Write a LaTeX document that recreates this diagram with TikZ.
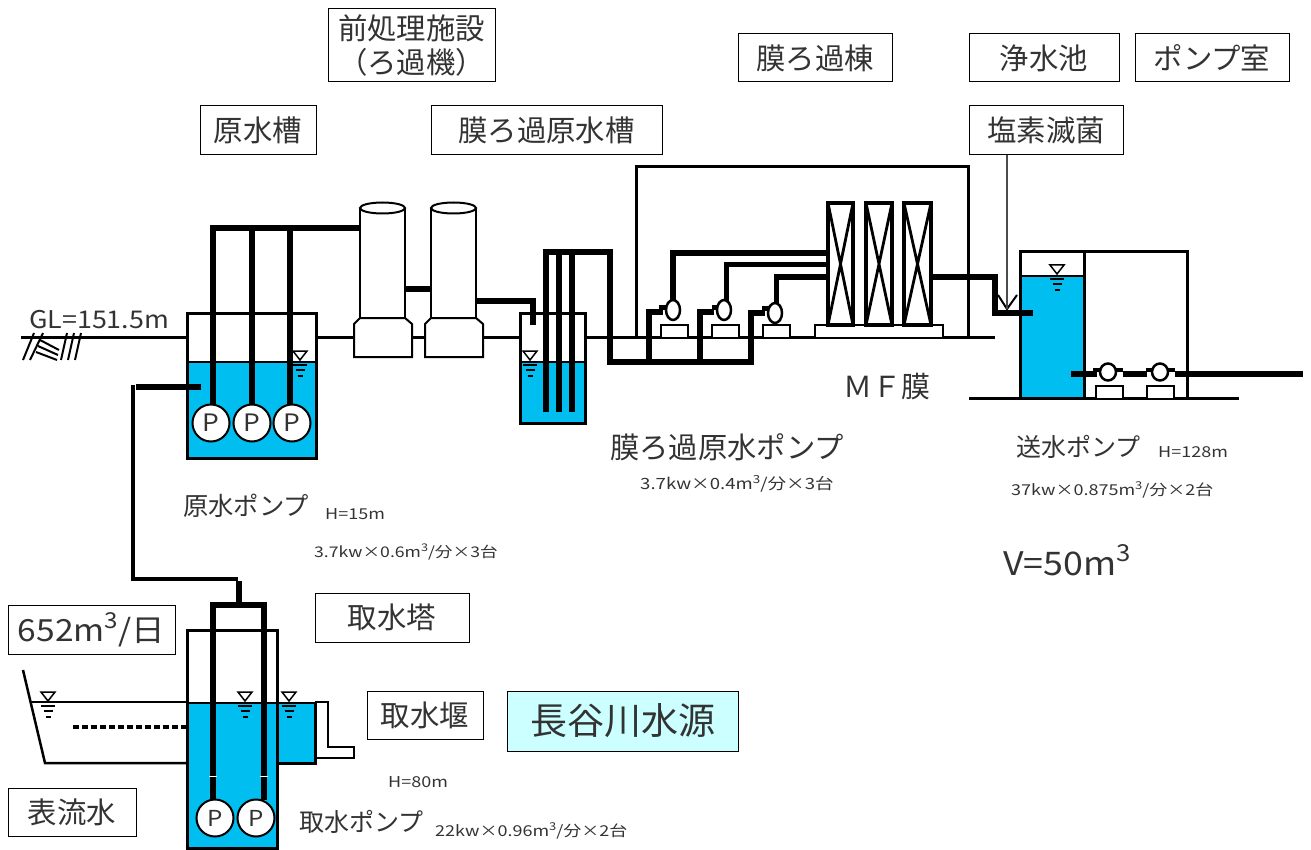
\documentclass[tikz,border=0pt]{standalone}
\usepackage{fontspec}
\setmainfont{Noto Sans CJK JP}
\newfontfamily\widef[FakeStretch=1.2]{Noto Sans CJK JP}
\newfontfamily\midf[FakeStretch=1.1]{Noto Sans CJK JP}
\definecolor{water}{HTML}{00BEEF}
\definecolor{inkt}{HTML}{333333}
\definecolor{cyanbox}{HTML}{CCFFFF}
\newcommand{\fs}[1]{\fontsize{#1}{#1}\selectfont}
\newcommand{\cu}{\raisebox{.42em}{\scalebox{.72}{3}}}
\usetikzlibrary{shapes.geometric}
\tikzset{
  txtbox/.style={draw=black,line width=1pt,fill=white,inner sep=0pt,align=center,text=inkt,font=\fs{29.4}},
  lbl/.style={inner sep=0pt,anchor=west,text=inkt},
  small/.style={lbl,font=\widef\fs{15}},
  pipe/.style={line width=6pt,line cap=butt,line join=miter},
  wall/.style={line width=3pt,line join=miter},
  thinw/.style={line width=3pt,line join=miter},
  pumpP/.style={circle,draw,line width=2pt,fill=white,minimum size=37pt,inner sep=0pt,font=\midf\fs{24},text=inkt},
  pumpO/.style={ellipse,draw,line width=2.5pt,fill=white,inner sep=0pt},
  basebox/.style={line width=2.7pt,fill=white}
}
\newcommand{\lev}[2]{% x, water level y
  \draw[line width=1.5pt,fill=white] (#1-7,#2-10)--(#1+7,#2-10)--(#1,#2-1)--cycle;
  \draw[line width=1.8pt] (#1-7,#2+4)--(#1+7,#2+4) (#1-4.5,#2+9)--(#1+4.5,#2+9) (#1-2.5,#2+15)--(#1+2.5,#2+15);}
\begin{document}
\begin{tikzpicture}[x=1pt,y=-1pt]
\useasboundingbox (0,0) rectangle (1311,850);
% water
\fill[water] (187,362) rectangle (316,458);
\fill[water] (520,362) rectangle (585,423);
\fill[water] (1020,276) rectangle (1084,398);
\fill[water] (187,703) rectangle (277,848);
\fill[water] (277,703) rectangle (315,763);
% ground lines
\draw[thinw] (21,337)--(187,337) (316,337)--(520,337) (585,337)--(995,337);
\draw[thinw] (969,398)--(1239,398);
% hatch
\draw[line width=2pt] (34,333)--(23,360) (43,333)--(30,360) (67,333)--(61,360) (74,333)--(68,360) (81,333)--(75,360);
\draw[line width=2pt] (40,340)--(59,350) (38,346)--(58,355) (36,352)--(57,360);
% raw tank
\draw[wall] (187,313) rectangle (316,458);
\draw[line width=2pt] (187,362)--(316,362);
% filters
\foreach \n/\x in {0/0,1/71}{
  \begin{scope}[xshift=\x pt]
  \draw[line width=2pt,fill=white] (360,208)--(360,318)--(405,318)--(405,208);
  \draw[line width=2pt,fill=white] (382.5,208) ellipse [x radius=22.5,y radius=5.5];
  \draw[line width=2pt,fill=white] (360,318)--(405,318)--(412,324)--(412,357)--(354,357)--(354,324)--cycle;
  \end{scope}}
\draw[pipe] (405,289)--(431,289);
\draw[pipe] (476,301)--(533,301)--(533,325);
% raw pipes
\draw[pipe] (213,423)--(213,228)--(360,228);
\draw[pipe] (252,228)--(252,423);
\draw[pipe] (290,228)--(290,423);
\lev{300}{361}
\node[pumpP] (pa) at (211,423) {P};
\node[pumpP] (pb) at (252,423) {P};
\node[pumpP] (pc) at (292,423) {P};
% inlet
\draw[line width=4pt] (133,385)--(133,579)--(238,579);
\draw[pipe] (136,387)--(201,387);
\draw[pipe] (239,581)--(239,605);
% MF raw tank
\draw[wall] (520,313) rectangle (585,423);
\draw[line width=2pt] (520,362)--(585,362);
\lev{530}{361}
\draw[pipe] (546,412)--(546,252)--(610,252)--(610,362)--(751,362)--(751,313)--(765,313);
\draw[pipe] (559,252)--(559,412);
\draw[pipe] (572,252)--(572,412);
\draw[pipe] (649,362)--(649,312)--(663,312);
\draw[pipe] (700,362)--(700,312)--(714,312);
% building
\draw[line width=3pt,line join=miter] (636,337)--(636,167)--(970,167);
\draw[line width=3pt] (968,167)--(968,337);
% bases
\foreach \x in {661,712,763}{\draw[basebox] (\x,337)--(\x,325)--(\x+27,325)--(\x+27,337);}
\draw[basebox] (815,337)--(815,325)--(943,325)--(943,337);
% outlets
\draw[pipe] (673,310)--(673,253)--(830,253);
\draw[line width=5pt] (726,310)--(726,265)--(830,265);
\draw[line width=5pt] (776,313)--(776,277)--(830,277);
\draw[line width=5pt] (659,307)--(668,307) (712,307)--(719,307) (762,308)--(770,308);
% pumps
\node[pumpO,minimum width=14pt,minimum height=20pt] (m1) at (673,310) {};
\node[pumpO,minimum width=14pt,minimum height=20pt] (m2) at (724,310) {};
\node[pumpO,minimum width=14pt,minimum height=20pt] (m3) at (775,313) {};
% modules
\foreach \a/\b in {828/853,866/892,904/931}{
  \draw[line width=3.2pt,fill=white] (\a,203) rectangle (\b,325);
  \draw[line width=2.8pt] (\a,203)--(\b,325) (\b,203)--(\a,325);}
\draw[pipe] (826,253)--(830,253);
\draw[line width=5pt] (826,265)--(830,265);
% outlet to clear well
\draw[pipe] (931,277)--(995,277)--(995,313)--(1033,313);
\draw[line width=2pt] (998,295)--(1007,309)--(1017,295);
% clear well / pump room
\draw[wall] (1020,398)--(1020,252)--(1187,252)--(1187,398);
\draw[wall] (1084,252)--(1084,398);
\draw[line width=2pt] (1020,276)--(1084,276);
\lev{1057}{275}
% send pumps
\draw[pipe] (1071,374)--(1097,374);
\draw[pipe] (1123,374)--(1147,374);
\draw[pipe] (1175,374)--(1303,374);
\draw[line width=4.5pt] (1093,370)--(1123,370) (1146,370)--(1175,370);
\foreach \x in {1096,1147}{\draw[basebox] (\x,398)--(\x,386)--(\x+27,386)--(\x+27,398);}
\node[pumpO,minimum width=16pt,minimum height=17pt] (s1) at (1108,372) {};
\node[pumpO,minimum width=16pt,minimum height=17pt] (s2) at (1160,372) {};
% intake: pond
\draw[line width=2.2pt] (31,702)--(187,702);
\draw[line width=2.5pt] (23,670)--(45,763)--(187,763);
\draw[line width=3.5pt,dash pattern=on 6pt off 3pt] (73,727)--(187,727);
% tower
\draw[wall] (187,848)--(187,630)--(277,630)--(277,848)--cycle;
\draw[line width=2pt] (187,703)--(315,703);
\draw[wall] (277,763)--(315,763)--(315,703);
\draw[line width=2.2pt] (315,702)--(328,702)--(328,747)--(354,747)--(354,758)--(315,758);
\lev{48}{702}
\lev{245}{702}
\lev{289}{702}
\draw[pipe] (213,800)--(213,603);
\draw[pipe] (264,800)--(264,605)--(210,605);
\draw[white,line width=.6pt] (209,776)--(217,776) (260,776)--(268,776);
\node[pumpP,font=\midf\fs{22}] (pd) at (215,818) {P};
\node[pumpP,font=\midf\fs{22}] (pe) at (256,818) {P};
% text boxes
\node[txtbox,minimum width=167pt,minimum height=73pt,font=\fs{29.4}] (b1) at (411.5,45.5) {前処理施設\\[4.5pt]（ろ過機）};
\node[txtbox,minimum width=116pt,minimum height=49pt] (b2) at (258,130.5) {原水槽};
\node[txtbox,minimum width=231pt,minimum height=49pt] (b3) at (546.5,130.5) {膜ろ過原水槽};
\node[txtbox,minimum width=154pt,minimum height=48pt] (b4) at (815,58) {膜ろ過棟};
\node[txtbox,minimum width=150pt,minimum height=48pt] (b5) at (1044,58) {浄水池};
\node[txtbox,minimum width=154pt,minimum height=48pt] (b6) at (1212,58) {ポンプ室};
\node[txtbox,minimum width=154pt,minimum height=49pt] (b7) at (1046,130.5) {塩素滅菌};
\coordinate (chl) at (1007,309);
\draw[line width=1.5pt,black!70] (b7.south -| chl)--(chl);
\node[txtbox,minimum width=154pt,minimum height=49pt] (b8) at (392,617.5) {取水塔};
\node[txtbox,minimum width=167pt,minimum height=49pt,font=\midf\fs{30.5}] (b9) at (91.5,629.5) {652m\cu/日};
\node[txtbox,minimum width=116pt,minimum height=48pt] (b10) at (425,715) {取水堰};
\node[txtbox,minimum width=231pt,minimum height=60pt,fill=cyanbox,font=\fs{37}] (b11) at (622.5,721) {長谷川水源};
\node[txtbox,minimum width=128pt,minimum height=48pt] (b12) at (72,812) {表流水};
% labels
\node[lbl,font=\midf\fs{24.4}] (t1) at (29,320) {GL=151.5m};
\node[lbl,font=\fs{25.3}] (t2) at (183,506) {原水ポンプ};
\node[small] (t3) at (325,514) {H=15m};
\node[small,font=\widef\fs{14.7}] (t4) at (314,552) {3.7kw×0.6m\cu/分×3台};
\node[lbl,font=\fs{29.3}] (t5) at (610,447) {膜ろ過原水ポンプ};
\node[small,font=\widef\fs{15.5}] (t6) at (640,484) {3.7kw×0.4m\cu/分×3台};
\node[lbl,font=\fs{29}] (t7) at (843,387) {ＭＦ膜};
\node[lbl,font=\fs{25}] (t8) at (1016,447) {送水ポンプ};
\node[small] (t9) at (1158,452) {H=128m};
\node[small] (t10) at (1011,490) {37kw×0.875m\cu/分×2台};
\node[lbl,font=\midf\fs{32.5}] (t11) at (1003,560) {V=50m\cu};
\node[small] (t12) at (388,782) {H=80m};
\node[lbl,font=\fs{25}] (t13) at (299,822) {取水ポンプ};
\node[small] (t14) at (435,831) {22kw×0.96m\cu/分×2台};
\end{tikzpicture}
\end{document}
